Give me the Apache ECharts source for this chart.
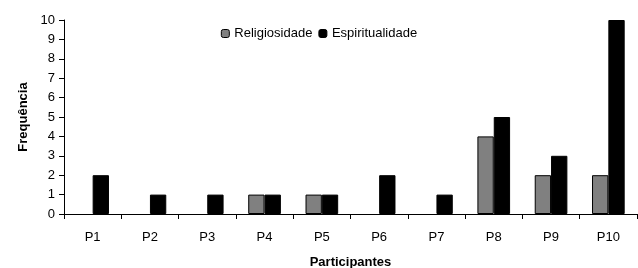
<!DOCTYPE html>
<html lang="pt">
<head>
    <meta charset="UTF-8">
    <title>Frequência</title>
    <script src="https://cdn.jsdelivr.net/npm/echarts@6/dist/echarts.min.js"></script>
    <style>
        * { margin: 0; padding: 0; }
        body { background: #fff; overflow: hidden; }
        #main { width: 638px; height: 268px; }
    </style>
</head>
<body>
<div id="main"></div>
<script type="text/javascript">
    var categorias = ['P1', 'P2', 'P3', 'P4', 'P5', 'P6', 'P7', 'P8', 'P9', 'P10'];
    var religiosidade = [0, 0, 0, 1, 1, 0, 0, 4, 2, 2];
    var espiritualidade = [2, 1, 1, 1, 1, 2, 1, 5, 3, 10];

    var fonte = 'Liberation Sans, Arial, sans-serif';

    // barras com valor 0 não mostram contorno
    function montar(valores) {
        return valores.map(function (v) {
            return v === 0 ? { value: v, itemStyle: { borderWidth: 0 } } : v;
        });
    }

    var myChart = echarts.init(document.getElementById('main'));
    var option = {
        animation: false,
        textStyle: { fontFamily: fonte },
        legend: {
            top: 22,
            left: 'center',
            itemWidth: 8,
            itemHeight: 8,
            itemGap: 6,
            textStyle: { fontSize: 13, color: '#000', fontFamily: fonte },
            data: [
                { name: 'Religiosidade', itemStyle: { borderColor: '#000', borderWidth: 1 } },
                { name: 'Espiritualidade', itemStyle: { borderColor: '#000', borderWidth: 1 } }
            ]
        },
        grid: { left: 64, right: 1, top: 20, bottom: 54, outerBoundsMode: 'none' },
        xAxis: {
            type: 'category',
            data: categorias,
            name: 'Participantes',
            nameLocation: 'middle',
            nameGap: 42,
            nameTextStyle: { fontWeight: 'bold', fontSize: 13, color: '#000', fontFamily: fonte },
            axisLine: { lineStyle: { color: '#000', width: 1 } },
            axisTick: { show: true, length: 5, lineStyle: { color: '#000' } },
            axisLabel: { color: '#000', fontSize: 13, margin: 17, fontFamily: fonte }
        },
        yAxis: {
            type: 'value',
            min: 0,
            max: 10,
            interval: 1,
            name: 'Frequência',
            nameLocation: 'middle',
            nameGap: 33,
            nameTextStyle: { fontWeight: 'bold', fontSize: 13, color: '#000', fontFamily: fonte },
            axisLine: { show: true, lineStyle: { color: '#000', width: 1 } },
            axisTick: { show: true, length: 5, lineStyle: { color: '#000' } },
            splitLine: { show: false },
            axisLabel: { color: '#000', fontSize: 13, margin: 9, fontFamily: fonte }
        },
        series: [
            {
                name: 'Religiosidade',
                type: 'bar',
                data: montar(religiosidade),
                barGap: '0%',
                barCategoryGap: '43%',
                itemStyle: { color: '#808080', borderColor: '#000', borderWidth: 1 }
            },
            {
                name: 'Espiritualidade',
                type: 'bar',
                data: montar(espiritualidade),
                barGap: '0%',
                barCategoryGap: '43%',
                itemStyle: { color: '#000', borderColor: '#000', borderWidth: 1 }
            }
        ]
    };
    myChart.setOption(option);
</script>
</body>
</html>
